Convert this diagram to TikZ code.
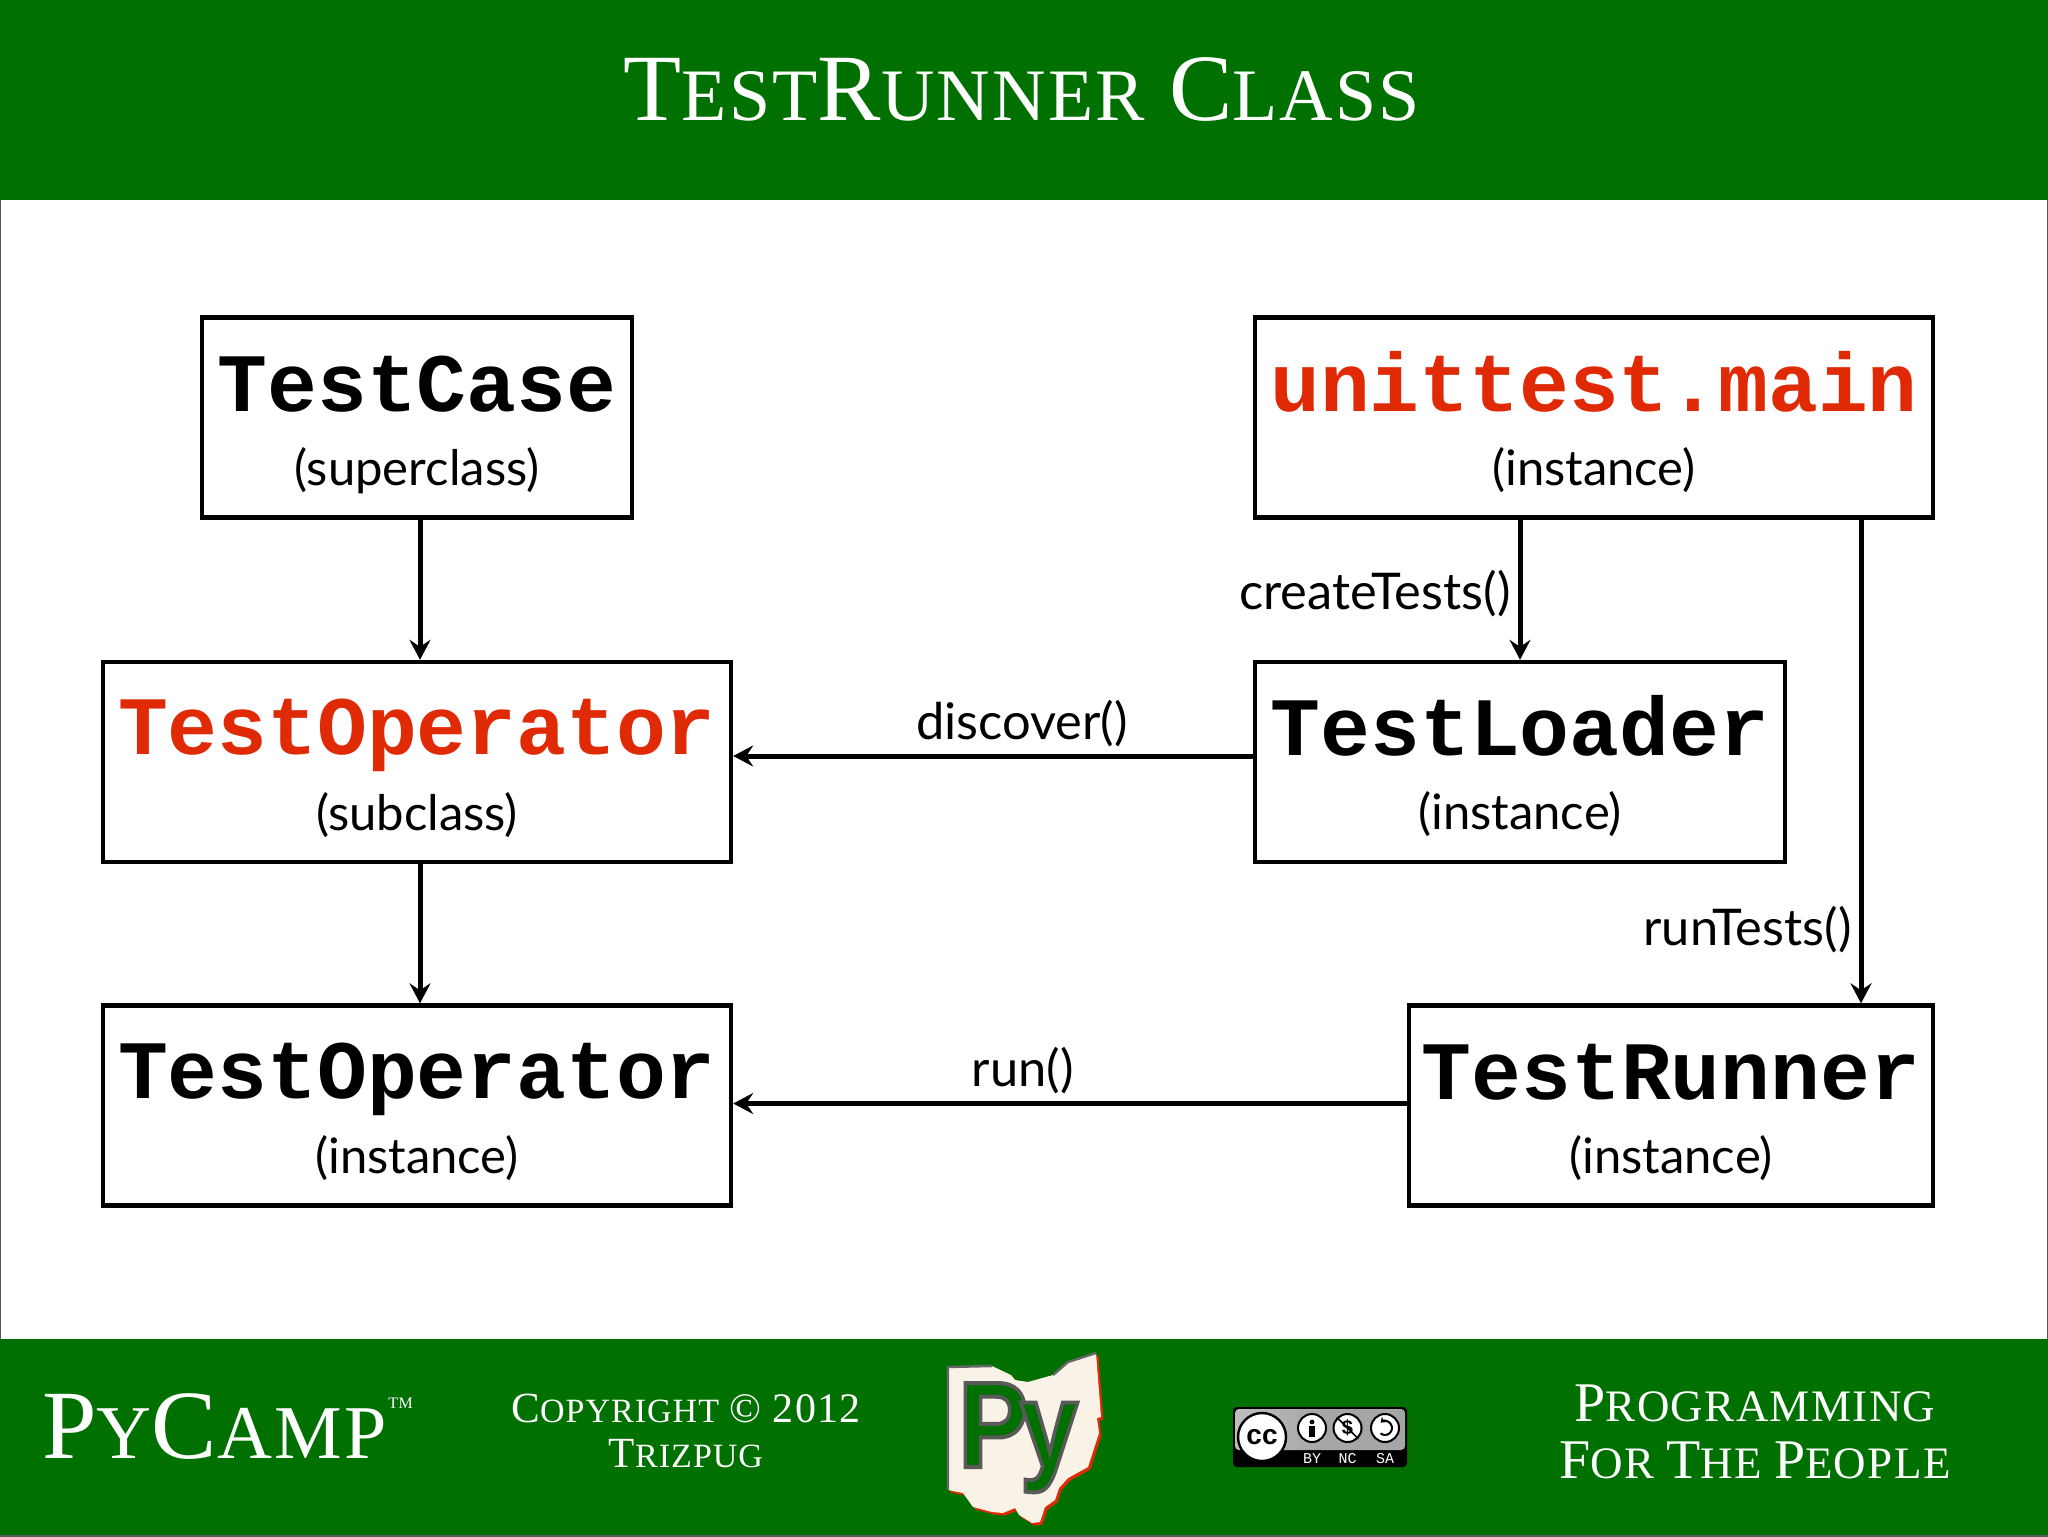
\documentclass[tikz,border=0pt]{standalone}
\usepackage{fontspec}
\usetikzlibrary{arrows.meta}
\setmainfont{Liberation Serif}[LetterSpace=3]
\newfontfamily\codefont{Liberation Mono}
\newfontfamily\labelfont{Lato}
\newfontfamily\logofont{Liberation Sans}
\definecolor{slidegreen}{HTML}{007000}
\definecolor{codered}{HTML}{E02A06}
\definecolor{ohiocream}{HTML}{F8F3E6}
\def\capbig{40pt}
\def\capsmall{30pt}
\newcommand{\capsc}[2]{{\fontsize{\capbig}{\capbig}\selectfont #1}{\fontsize{\capsmall}{\capsmall}\selectfont #2}}
\newcommand{\classtext}[3]{\rule[-8pt]{0pt}{46.5pt}{\color{#1}\fontsize{41.5pt}{41.5pt}\codefont\bfseries #2}\\\rule[-8pt]{0pt}{36pt}{\fontsize{24.5pt}{24.5pt}\labelfont #3}}
\begin{document}
\begin{tikzpicture}[
  x=0.5pt, y=-0.5pt,
  classbox/.style={rectangle, draw=black, line width=2.2pt, fill=white, align=center, inner sep=0pt, minimum height=100pt},
  arrow/.style={-{Stealth[length=10pt,width=10.5pt,inset=3.5pt]}, line width=2.5pt},
  methodlabel/.style={font=\fontsize{25.3pt}{25.3pt}\labelfont, inner sep=3.5pt},
  footertext/.style={text=white, align=center, inner sep=0pt},
  band/.style={fill=slidegreen, draw=none}
]
\useasboundingbox (0,0) rectangle (2048,1536);
\draw[draw=black!65, line width=0.8pt, fill=white] (0,0) rectangle (2048,1536);

% Header and footer
\fill[band] (0,0) rectangle (2048,200);
\fill[band] (0,1339) rectangle (2048,1535);
\node[footertext] (title) at (1022,90) {\def\capbig{47.5pt}\def\capsmall{37pt}\capsc{T}{EST}\capsc{R}{UNNER}\hspace{12pt}\capsc{C}{LASS}};

% Classes
\node[classbox, minimum width=215pt] (testcase) at (417,417.5) {\classtext{black}{TestCase}{(superclass)}};
\node[classbox, minimum width=339pt] (unittestmain) at (1594,417.5) {\classtext{codered}{unittest.main}{(instance)}};
\node[classbox, minimum width=314pt] (testopsub) at (417,762) {\classtext{codered}{TestOperator}{(subclass)}};
\node[classbox, minimum width=265pt] (testloader) at (1520,762) {\classtext{black}{TestLoader}{(instance)}};
\node[classbox, minimum width=314pt] (testopinst) at (417,1105.5) {\classtext{black}{TestOperator}{(instance)}};
\node[classbox, minimum width=262pt] (testrunner) at (1671,1105.5) {\classtext{black}{TestRunner}{(instance)}};

% Calls
\draw[arrow] ([xshift=1.5pt]testcase.south) -- ([xshift=1.5pt]testopsub.north);
\draw[arrow] ([xshift=1.5pt]testopsub.south) -- ([xshift=1.5pt]testopinst.north);
\draw[arrow] (unittestmain.south -| testloader.north) -- (testloader.north) node[midway, left, methodlabel, yshift=-2pt] {createTests()};
\draw[arrow] ([yshift=3pt]testloader.west) -- ([yshift=3pt]testopsub.east) node[pos=0.444, above, methodlabel] {discover()};
\draw[arrow] ([yshift=1pt]testrunner.west) -- ([yshift=1pt]testopinst.east) node[pos=0.57, above, methodlabel] {run()};
\coordinate (runtop) at ([xshift=95pt]testrunner.north);
\draw[arrow] (unittestmain.south -| runtop) -- (runtop) node[pos=0.84, left, methodlabel, yshift=-2pt] {runTests()};

% Footer text
\node[footertext, anchor=base west] (pycamp) at (42,1458) {\def\capbig{49pt}\def\capsmall{38pt}\capsc{P}{Y}\capsc{C}{AMP}};
\node[footertext, anchor=base west] (tm) at (388,1408) {\fontsize{8pt}{8pt}\selectfont TM};
\node[footertext] (copyright) at (686,1431) {\def\capbig{21.5pt}\def\capsmall{17pt}\capsc{C}{OPYRIGHT}\hspace{5pt}{\fontsize{21pt}{21pt}\selectfont © 2012}\\[7pt]\def\capbig{21.5pt}\def\capsmall{17pt}\capsc{T}{RIZPUG}};
\node[footertext] (motto) at (1755,1432) {\def\capbig{28pt}\def\capsmall{22.5pt}\capsc{P}{ROGRAMMING}\\[9pt]\def\capbig{28pt}\def\capsmall{22.5pt}\capsc{F}{OR}\hspace{6pt}\capsc{T}{HE}\hspace{6pt}\capsc{P}{EOPLE}};

% Ohio logo
\def\ohiopath{(948,1367) -- (992,1366) -- (1011,1375) -- (1015,1380) -- (1028,1382) -- (1053,1375) -- (1068,1362) -- (1096,1353) -- (1101,1417) -- (1097,1418) -- (1099,1433) -- (1088,1467) -- (1068,1478) -- (1059,1488) -- (1055,1500) -- (1045,1507) -- (1040,1522) -- (1032,1523) -- (1019,1515) -- (1015,1508) -- (1003,1513) -- (992,1512) -- (973,1507) -- (963,1493) -- (948,1490) -- cycle}
\fill[codered, shift={(2.5,2.5)}] \ohiopath;
\fill[ohiocream] \ohiopath;
\draw[black!60, line width=1.2pt] (948,1490) -- (948,1367) -- (992,1366) (1053,1375) -- (1068,1362) -- (1096,1353);
\node[inner sep=0pt, anchor=base west, text=slidegreen] (pylogo) at (958,1467) {\special{pdf:code 2 Tr 2 w 0.35 0.35 0.35 RG}\scalebox{0.86}[1]{\fontsize{61pt}{61pt}\logofont\bfseries P\kern-5pt y}};

% Licence badge
\fill[black, rounded corners=2pt] (1233,1407) rectangle (1407,1467);
\fill[left color=white!75!black, right color=black!35, middle color=black!35, rounded corners=2pt] (1235,1409) rectangle (1405,1450);
\node[circle, draw=black, line width=1.2pt, fill=white, minimum size=24pt, inner sep=0pt, font=\fontsize{14pt}{14pt}\logofont\bfseries] (ccmark) at (1262,1437) {cc};
\node[circle, draw=black, line width=1pt, fill=white, minimum size=14pt, inner sep=0pt] (bymark) at (1312,1428) {};
\fill[black] (1312,1422) circle (2.4);
\fill[black] (1309,1426) rectangle (1315,1437);
\node[circle, draw=black, line width=1pt, fill=white, minimum size=14pt, inner sep=0pt, font=\fontsize{10pt}{10pt}\logofont\bfseries] (ncmark) at (1347.5,1428) {\$};
\draw[black, line width=0.8pt] (ncmark.north west) -- (ncmark.south east);
\node[circle, draw=black, line width=1pt, fill=white, minimum size=14pt, inner sep=0pt] (samark) at (1385,1428) {};
\draw[black, line width=1pt, {Stealth[length=2.5pt,width=3.5pt]}-] (1380.5,1422.6) arc[start angle=-130, end angle=130, radius=7];
\foreach \name/\xpos/\word in {bylabel/1312/BY, nclabel/1347.5/NC, salabel/1385/SA}
  \node[text=white, inner sep=0pt, font=\fontsize{7.5pt}{7.5pt}\codefont] (\name) at (\xpos,1459) {\word};
\end{tikzpicture}
\end{document}
